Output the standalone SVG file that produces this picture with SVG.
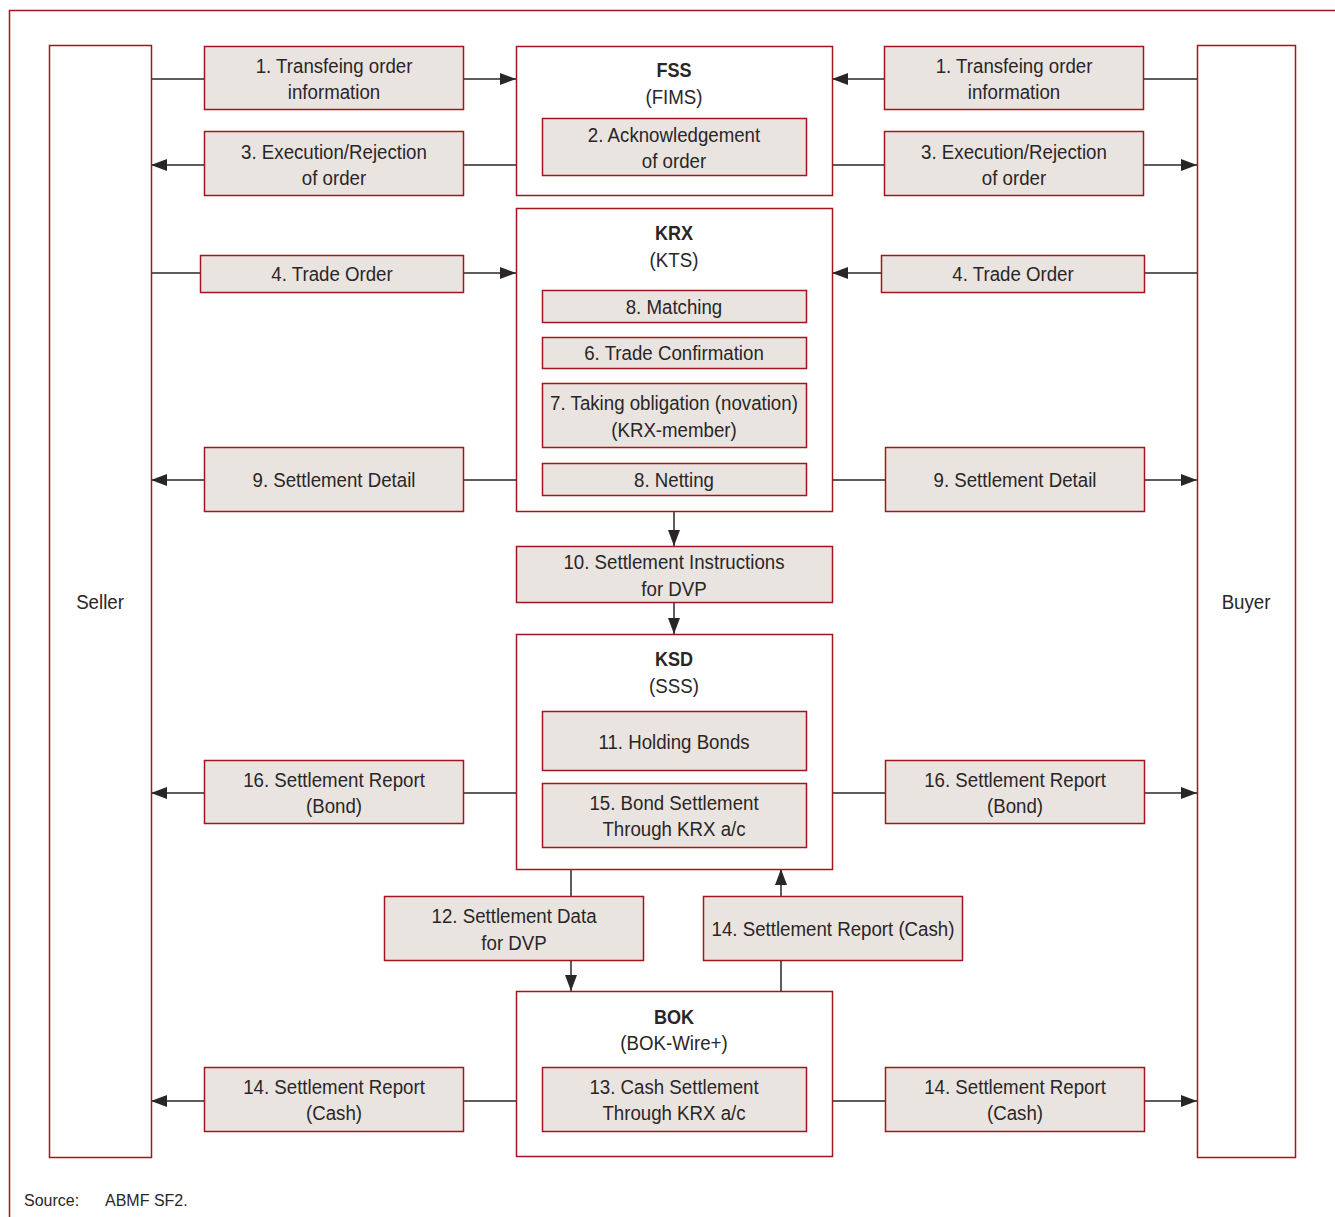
<svg xmlns="http://www.w3.org/2000/svg" width="1335" height="1217" viewBox="0 0 1335 1217">
<defs>
<style>
.b{fill:#fff;stroke:#a3151d;stroke-width:1.5}
.g{fill:#e9e4e0;stroke:#a3151d;stroke-width:1.5}
text{font-family:"Liberation Sans",Arial,sans-serif;font-size:21px;fill:#2a2627;text-anchor:middle;transform-box:fill-box;transform-origin:center;transform:scaleX(0.89)}
.h{font-weight:bold;transform:scaleX(0.86)}
.s{text-anchor:start;font-size:16px;transform:none}
.l{stroke:#2a2627;stroke-width:1.5;fill:none}
.a{marker-end:url(#ah)}
</style>
<marker id="ah" markerUnits="userSpaceOnUse" markerWidth="16" markerHeight="12" viewBox="0 0 16 12" refX="16" refY="6" orient="auto">
<path d="M0,0 L16,6 L0,12 Z" fill="#2a2627"/>
</marker>
</defs>
<rect width="1335" height="1217" fill="#fff"/>
<path d="M9.5,1217 V10.5 H1335" fill="none" stroke="#a3151d" stroke-width="1.5"/>

<g id="connectors">
<line class="l" x1="151" y1="79" x2="204" y2="79"/>
<line class="l a" x1="464" y1="79" x2="516" y2="79"/>
<line class="l" x1="1197" y1="79" x2="1143" y2="79"/>
<line class="l a" x1="884" y1="79" x2="832" y2="79"/>
<line class="l" x1="516" y1="165" x2="464" y2="165"/>
<line class="l a" x1="204" y1="165" x2="151" y2="165"/>
<line class="l" x1="832" y1="165" x2="884" y2="165"/>
<line class="l a" x1="1143" y1="165" x2="1197" y2="165"/>
<line class="l" x1="151" y1="273" x2="200" y2="273"/>
<line class="l a" x1="464" y1="273" x2="516" y2="273"/>
<line class="l" x1="1197" y1="273" x2="1145" y2="273"/>
<line class="l a" x1="881" y1="273" x2="832" y2="273"/>
<line class="l" x1="516" y1="480" x2="464" y2="480"/>
<line class="l a" x1="204" y1="480" x2="151" y2="480"/>
<line class="l" x1="832" y1="480" x2="885" y2="480"/>
<line class="l a" x1="1144" y1="480" x2="1197" y2="480"/>
<line class="l a" x1="674" y1="511" x2="674" y2="546"/>
<line class="l a" x1="674" y1="602" x2="674" y2="634"/>
<line class="l" x1="516" y1="793" x2="464" y2="793"/>
<line class="l a" x1="204" y1="793" x2="151" y2="793"/>
<line class="l" x1="832" y1="793" x2="885" y2="793"/>
<line class="l a" x1="1144" y1="793" x2="1197" y2="793"/>
<line class="l" x1="571" y1="869" x2="571" y2="896"/>
<line class="l a" x1="571" y1="960" x2="571" y2="991"/>
<line class="l" x1="781" y1="991" x2="781" y2="960"/>
<line class="l a" x1="781" y1="896" x2="781" y2="869"/>
<line class="l" x1="516" y1="1101" x2="464" y2="1101"/>
<line class="l a" x1="204" y1="1101" x2="151" y2="1101"/>
<line class="l" x1="832" y1="1101" x2="885" y2="1101"/>
<line class="l a" x1="1144" y1="1101" x2="1197" y2="1101"/>
</g>

<g id="seller"><rect class="b" x="49.5" y="45.5" width="102" height="1112"/><text x="100" y="609">Seller</text></g>
<g id="buyer"><rect class="b" x="1197.5" y="45.5" width="98" height="1112"/><text x="1246" y="609">Buyer</text></g>

<g id="l1"><rect class="g" x="204.5" y="46.5" width="259" height="63"/><text x="334" y="73">1. Transfeing order</text><text x="334" y="99">information</text></g>
<g id="l3"><rect class="g" x="204.5" y="131.5" width="259" height="64"/><text x="334" y="159">3. Execution/Rejection</text><text x="334" y="185">of order</text></g>
<g id="r1"><rect class="g" x="884.5" y="46.5" width="259" height="63"/><text x="1014" y="73">1. Transfeing order</text><text x="1014" y="99">information</text></g>
<g id="r3"><rect class="g" x="884.5" y="131.5" width="259" height="64"/><text x="1014" y="159">3. Execution/Rejection</text><text x="1014" y="185">of order</text></g>

<g id="fss"><rect class="b" x="516.5" y="46.5" width="316" height="149"/><text class="h" x="674" y="77">FSS</text><text x="674" y="104">(FIMS)</text>
<rect class="g" x="542.5" y="118.5" width="264" height="57"/><text x="674" y="142">2. Acknowledgement</text><text x="674" y="168">of order</text></g>

<g id="krx"><rect class="b" x="516.5" y="208.5" width="316" height="303"/><text class="h" x="674" y="240">KRX</text><text x="674" y="267">(KTS)</text>
<rect class="g" x="542.5" y="290.5" width="264" height="32"/><text x="674" y="314">8. Matching</text>
<rect class="g" x="542.5" y="337.5" width="264" height="31"/><text x="674" y="360">6. Trade Confirmation</text>
<rect class="g" x="542.5" y="383.5" width="264" height="64"/><text x="674" y="410">7. Taking obligation (novation)</text><text x="674" y="437">(KRX-member)</text>
<rect class="g" x="542.5" y="463.5" width="264" height="32"/><text x="674" y="487">8. Netting</text></g>

<g id="l4"><rect class="g" x="200.5" y="255.5" width="263" height="37"/><text x="332" y="281">4. Trade Order</text></g>
<g id="r4"><rect class="g" x="881.5" y="255.5" width="263" height="37"/><text x="1013" y="281">4. Trade Order</text></g>
<g id="l9"><rect class="g" x="204.5" y="447.5" width="259" height="64"/><text x="334" y="487">9. Settlement Detail</text></g>
<g id="r9"><rect class="g" x="885.5" y="447.5" width="259" height="64"/><text x="1015" y="487">9. Settlement Detail</text></g>

<g id="n10"><rect class="g" x="516.5" y="546.5" width="316" height="56"/><text x="674" y="569">10. Settlement Instructions</text><text x="674" y="596">for DVP</text></g>

<g id="ksd"><rect class="b" x="516.5" y="634.5" width="316" height="235"/><text class="h" x="674" y="666">KSD</text><text x="674" y="693">(SSS)</text>
<rect class="g" x="542.5" y="711.5" width="264" height="59"/><text x="674" y="749">11. Holding Bonds</text>
<rect class="g" x="542.5" y="783.5" width="264" height="64"/><text x="674" y="810">15. Bond Settlement</text><text x="674" y="836">Through KRX a/c</text></g>

<g id="l16"><rect class="g" x="204.5" y="760.5" width="259" height="63"/><text x="334" y="787">16. Settlement Report</text><text x="334" y="813">(Bond)</text></g>
<g id="r16"><rect class="g" x="885.5" y="760.5" width="259" height="63"/><text x="1015" y="787">16. Settlement Report</text><text x="1015" y="813">(Bond)</text></g>

<g id="n12"><rect class="g" x="384.5" y="896.5" width="259" height="64"/><text x="514" y="923">12. Settlement Data</text><text x="514" y="950">for DVP</text></g>
<g id="n14m"><rect class="g" x="703.5" y="896.5" width="259" height="64"/><text x="833" y="936">14. Settlement Report (Cash)</text></g>

<g id="bok"><rect class="b" x="516.5" y="991.5" width="316" height="165"/><text class="h" x="674" y="1024">BOK</text><text x="674" y="1050">(BOK-Wire+)</text>
<rect class="g" x="542.5" y="1067.5" width="264" height="64"/><text x="674" y="1094">13. Cash Settlement</text><text x="674" y="1120">Through KRX a/c</text></g>

<g id="l14"><rect class="g" x="204.5" y="1067.5" width="259" height="64"/><text x="334" y="1094">14. Settlement Report</text><text x="334" y="1120">(Cash)</text></g>
<g id="r14"><rect class="g" x="885.5" y="1067.5" width="259" height="64"/><text x="1015" y="1094">14. Settlement Report</text><text x="1015" y="1120">(Cash)</text></g>

<g id="source"><text class="s" x="24" y="1206">Source:</text><text class="s" x="105" y="1206">ABMF SF2.</text></g>
</svg>
